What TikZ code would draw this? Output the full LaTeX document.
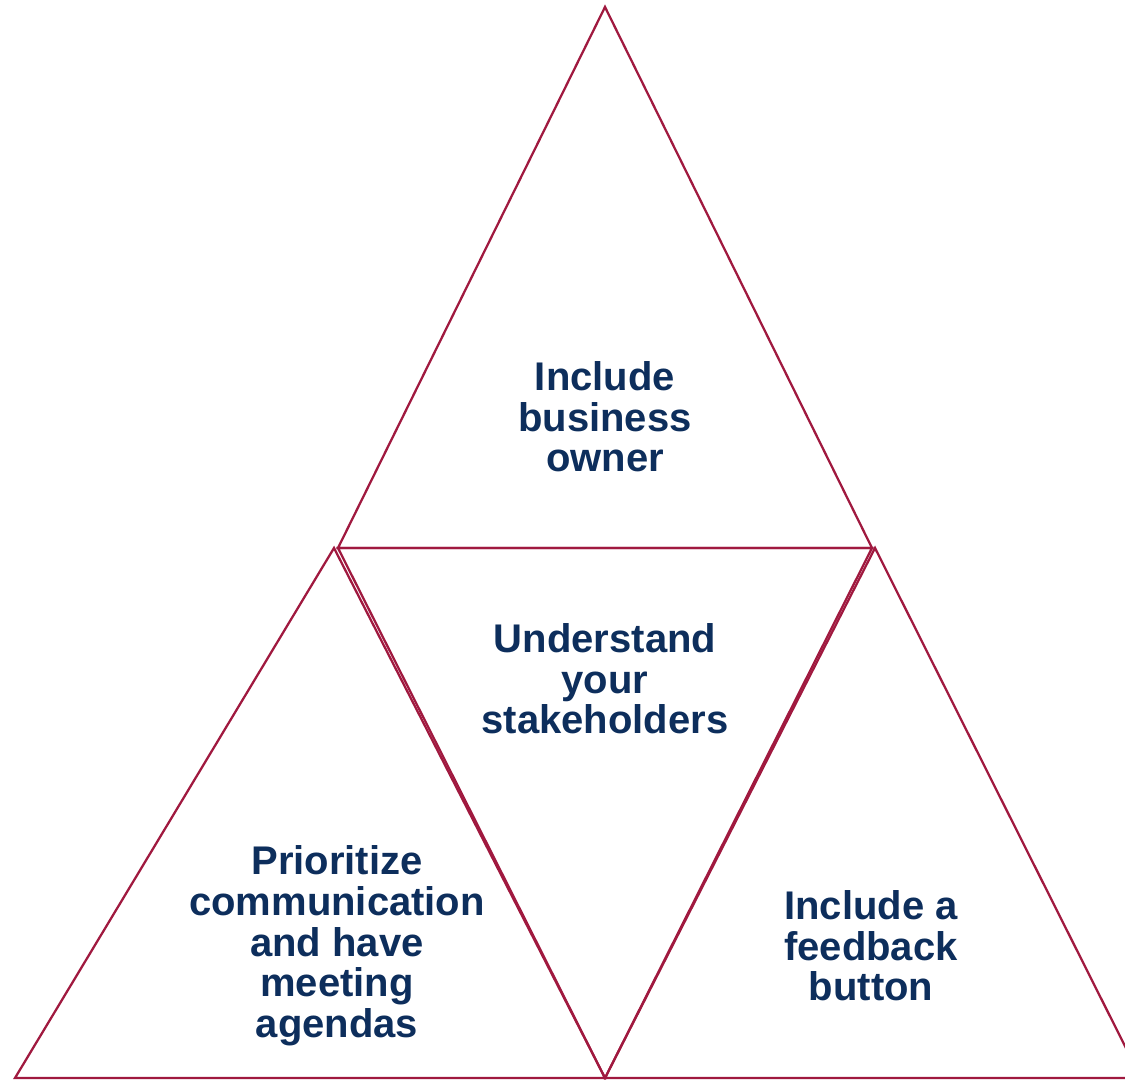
\documentclass[tikz,border=0pt]{standalone}
\usepackage{fontspec}
\setmainfont{Liberation Sans}
\definecolor{edgered}{HTML}{A0193F}
\definecolor{textblue}{HTML}{0D2E5C}
\tikzset{
  tri/.style={draw=edgered,line width=1.7pt,line join=miter},
  label/.style={align=center,text=textblue,font=\bfseries\fontsize{30}{30.5}\selectfont}
}
\begin{document}
\begin{tikzpicture}[x=0.75pt,y=-0.75pt]
        \useasboundingbox (0,0) rectangle (1125,1080);
        \clip (0,0) rectangle (1125,1080);
        % corners
        \coordinate (apex) at (605,7);
        \coordinate (ml) at (338,548);
        \coordinate (mr) at (872,548);
        \coordinate (lapex) at (334,548);
        \coordinate (rapex) at (875,548);
        \coordinate (bl) at (15,1078);
        \coordinate (bm) at (605,1078);
        \coordinate (br) at (1141,1078);
        \draw[tri] (apex) -- (mr) -- (ml) -- cycle;
        \draw[tri] (lapex) -- (bm) -- (bl) -- cycle;
        \draw[tri] (ml) -- (mr) -- (bm) -- cycle;
        \draw[tri] (rapex) -- (br) -- (bm) -- cycle;
        % texts
        \node[label] (owner) at (605,417) {Include\\business\\owner};
        \node[label] (stake) at (605,679) {Understand\\your\\stakeholders};
        \node[label] (agenda) at (337,946) {Prioritize\\communication\\and have\\meeting\\agendas};
        \node[label] (button) at (871,946) {Include a\\feedback\\button};
      \end{tikzpicture}
\end{document}
